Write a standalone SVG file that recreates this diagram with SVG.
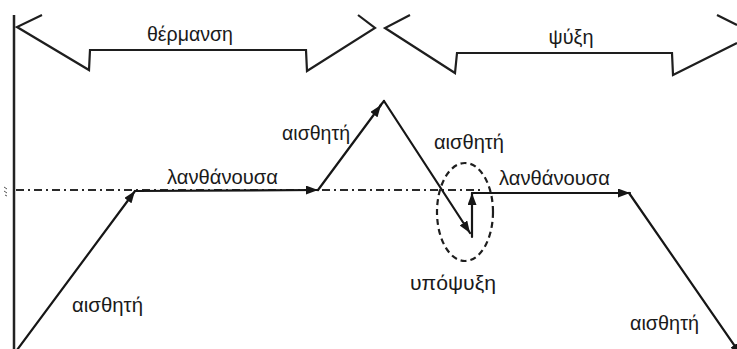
<svg xmlns="http://www.w3.org/2000/svg" width="737" height="349" viewBox="0 0 737 349">
  <style>
    .bg { fill: #ffffff; }
    .line { fill: none; stroke: #161616; stroke-width: 2.2; stroke-linecap: round; stroke-linejoin: miter; }
    .axis { fill: none; stroke: #222222; stroke-width: 2.5; }
    .brace { fill: none; stroke: #1e1e1e; stroke-width: 2.2; stroke-linejoin: miter; }
    .ref { fill: none; stroke: #2a2a2a; stroke-width: 2; stroke-dasharray: 8 4 2 4; }
    .loop { fill: none; stroke: #1e1e1e; stroke-width: 2.2; stroke-dasharray: 6 4; }
    .lbl { font-family: "Liberation Sans", Arial, sans-serif; font-size: 21px; fill: #1a1a1a; }
  </style>
  <defs>
    <marker id="arrow" viewBox="0 0 12 9" refX="12" refY="4.5" markerWidth="12" markerHeight="9" markerUnits="userSpaceOnUse" orient="auto">
      <path d="M0,0 L12,4.5 L0,9 z" fill="#161616"/>
    </marker>
  </defs>

  <rect class="bg" x="0" y="0" width="737" height="349"/>

  <!-- vertical temperature axis -->
  <g id="axis">
    <line class="axis" x1="14" y1="15" x2="14" y2="349"/>
    <path d="M4,187 l3,2 M4,191 l3,2 M5,195 l2,1" stroke="#555" stroke-width="1" fill="none"/>
  </g>

  <!-- phase-change reference level -->
  <g id="reference-level">
    <line class="ref" x1="16" y1="190" x2="480" y2="190"/>
  </g>

  <!-- heating span -->
  <g id="brace-heating">
    <path class="brace" d="M42,15 L17,27 L89,70 L90,50 L306,50 L307,71 L375,28 L358,15"/>
    <text class="lbl" x="190" y="41" text-anchor="middle" textLength="86" lengthAdjust="spacingAndGlyphs">θέρμανση</text>
  </g>

  <!-- cooling span -->
  <g id="brace-cooling">
    <path class="brace" d="M410,15 L385,28 L455,73 L457,53 L672,53 L673,75 L737,43"/>
    <path class="brace" d="M717,15 L737,25"/>
    <text class="lbl" x="571" y="44" text-anchor="middle" textLength="45" lengthAdjust="spacingAndGlyphs">ψύξη</text>
  </g>

  <!-- supercooling region -->
  <g id="supercooling">
    <ellipse class="loop" cx="465" cy="212" rx="28" ry="49"/>
    <text class="lbl" x="410" y="290" textLength="86" lengthAdjust="spacingAndGlyphs">υπόψυξη</text>
  </g>

  <!-- stage labels -->
  <g id="labels">
    <text class="lbl" x="72" y="312" textLength="71" lengthAdjust="spacingAndGlyphs">αισθητή</text>
    <text class="lbl" x="167" y="184" textLength="111" lengthAdjust="spacingAndGlyphs">λανθάνουσα</text>
    <text class="lbl" x="282" y="140" textLength="68" lengthAdjust="spacingAndGlyphs">αισθητή</text>
    <text class="lbl" x="434" y="149" textLength="70" lengthAdjust="spacingAndGlyphs">αισθητή</text>
    <text class="lbl" x="499" y="185" textLength="111" lengthAdjust="spacingAndGlyphs">λανθάνουσα</text>
    <text class="lbl" x="630" y="330" textLength="69" lengthAdjust="spacingAndGlyphs">αισθητή</text>
  </g>

  <!-- process path -->
  <g id="connectors">
    <line class="line" x1="17" y1="350" x2="135" y2="191" marker-end="url(#arrow)"/>
    <line class="line" x1="135" y1="191" x2="318" y2="190" marker-end="url(#arrow)"/>
    <line class="line" x1="318" y1="190" x2="381" y2="105" marker-end="url(#arrow)"/>
    <line class="line" x1="380" y1="106" x2="384" y2="101"/>
    <line class="line" x1="384" y1="101" x2="470" y2="233" marker-end="url(#arrow)"/>
    <line class="line" x1="472" y1="237" x2="472" y2="193" marker-end="url(#arrow)"/>
    <line class="line" x1="472" y1="193" x2="630" y2="193" marker-end="url(#arrow)"/>
    <line class="line" x1="629" y1="193" x2="741" y2="355" marker-end="url(#arrow)"/>
  </g>
</svg>
